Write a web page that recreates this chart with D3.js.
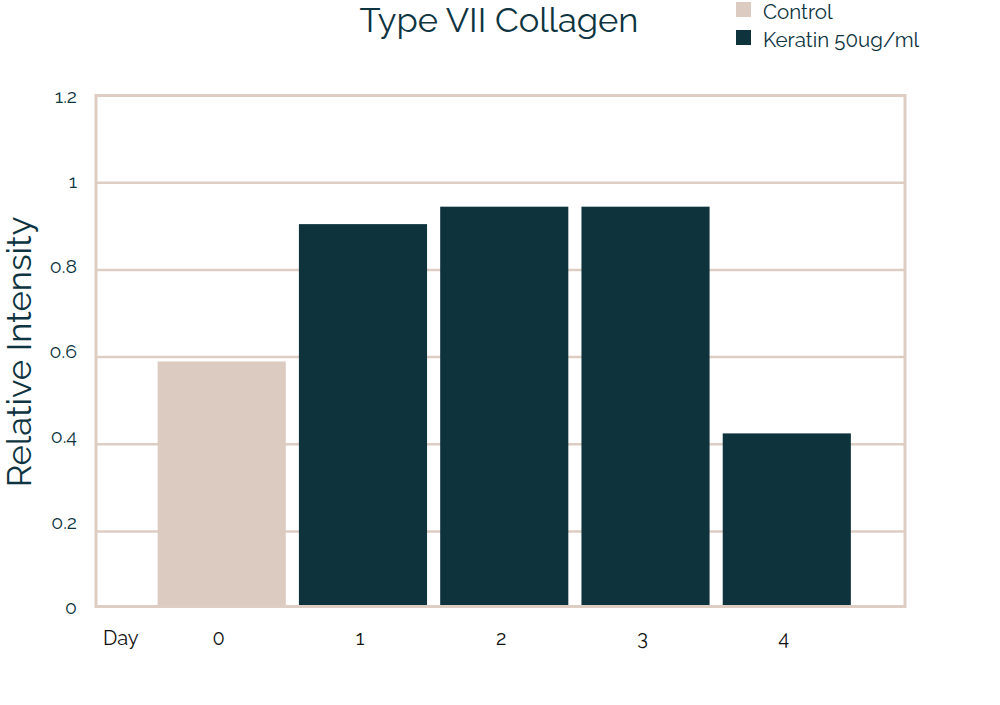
<!DOCTYPE html>
<html><head><meta charset="utf-8">
<script src="https://cdn.jsdelivr.net/npm/d3@7"></script>
<style>body{margin:0;background:#fff}svg{display:block}</style>
</head><body>
<script>
const title = "Type VII Collagen";
const days = ["0","1","2","3","4"];
const values = [0.59, 0.905, 0.945, 0.945, 0.425];
const seriesOf = ["Control","Keratin 50ug/ml","Keratin 50ug/ml","Keratin 50ug/ml","Keratin 50ug/ml"];
const legendNames = ["Control","Keratin 50ug/ml"];
const colors = ["#dccbc1","#0e333d"];
const yTicks = [0,0.2,0.4,0.6,0.8,1,1.2];
const yTickLabels = ["0","0.2","0.4","0.6","0.8","1","1.2"];

(function(){
const W=1000,H=705;
const font="Raleway, Lato, 'Open Sans', sans-serif";
const ink="#0d3440";
const frame="#decdc3";
const svg=d3.select("body").append("svg").attr("width",W).attr("height",H);

const pL=96,pR=905,pT=95.5,pB=606.5;
const y=d3.scaleLinear().domain([0,1.2]).range([618.7,95.5]);
const yLab=d3.scaleLinear().domain([0,1.2]).range([607,96]);
const x=d3.scaleBand().domain(days).range([151,857.5]).paddingInner(0.093).paddingOuter(0.047);
const color=d3.scaleOrdinal().domain(legendNames).range(colors);

svg.append("defs").append("clipPath").attr("id","c").append("rect")
  .attr("x",pL).attr("y",pT).attr("width",pR-pL).attr("height",pB-pT-1.5);

// gridlines
svg.append("g").selectAll("line").data(yTicks.filter(t=>t>0&&t<1.2)).join("line")
  .attr("x1",pL).attr("x2",pR).attr("y1",d=>y(d)).attr("y2",d=>y(d))
  .attr("stroke",frame).attr("stroke-width",2.5);

// bars
svg.append("g").attr("clip-path","url(#c)").selectAll("rect").data(days).join("rect")
  .attr("x",d=>x(d)).attr("width",x.bandwidth())
  .attr("y",(d,i)=>y(values[i])).attr("height",(d,i)=>y(0)-y(values[i]))
  .attr("fill",(d,i)=>color(seriesOf[i]));

// frame
svg.append("rect").attr("x",pL).attr("y",pT).attr("width",pR-pL).attr("height",pB-pT)
  .attr("fill","none").attr("stroke",frame).attr("stroke-width",3);

// y tick labels
svg.append("g").selectAll("text").data(yTicks).join("text")
  .attr("x",77).attr("y",d=>yLab(d)).attr("dy","0.35em").attr("text-anchor","end")
  .attr("font-family",font).attr("font-size",19.5).attr("fill",ink)
  .text((d,i)=>yTickLabels[i]);

// x tick labels
const xAxis=d3.axisBottom(x).tickSize(0).tickPadding(0);
const gx=svg.append("g").attr("transform","translate(-3,638)").call(xAxis);
gx.select(".domain").remove();
gx.selectAll("text").attr("dy","0.35em").attr("font-family",font).attr("font-size",20).attr("fill","#111");
svg.append("text").attr("x",103).attr("y",638).attr("dy","0.35em")
  .attr("font-family",font).attr("font-size",20).attr("fill","#111").text("Day");

// title
svg.append("text").attr("x",499).attr("y",19.5).attr("dy","0.35em").attr("text-anchor","middle")
  .attr("font-family",font).attr("font-size",34.5).attr("fill",ink).text(title);

// y title
svg.append("text").attr("transform","translate(19,352) rotate(-90)").attr("dy","0.35em")
  .attr("text-anchor","middle").attr("font-family",font).attr("font-size",34.5).attr("fill",ink)
  .text("Relative Intensity");

// legend
const lg=svg.append("g").selectAll("g").data(legendNames).join("g")
  .attr("transform",(d,i)=>`translate(736,${2+i*28})`);
lg.append("rect").attr("width",15).attr("height",15).attr("fill",d=>color(d));
lg.append("text").attr("x",27).attr("y",9.5).attr("dy","0.35em")
  .attr("font-family",font).attr("font-size",20.5).attr("fill",ink).text(d=>d);
})();
</script>
</body></html>
